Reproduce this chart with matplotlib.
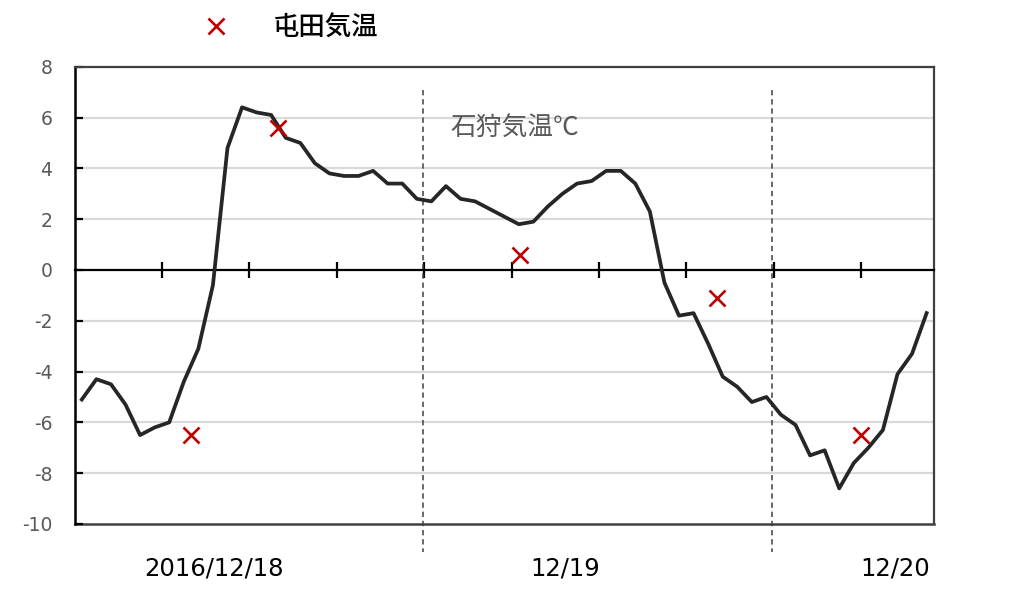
"""
Ishikari hourly air temperature vs. Tonden spot readings, 2016/12/18 - 12/20.
"""
import numpy as np
import matplotlib
matplotlib.use("Agg")
import matplotlib.pyplot as plt

# hourly temperature at Ishikari, one value per hour (59 hours from 12/18 00:00)
ishikari_temp = [
    -5.1, -4.3, -4.5, -5.3, -6.5, -6.2, -6.0, -4.4, -3.1, -0.6,
    4.8, 6.4, 6.2, 6.1, 5.2, 5.0, 4.2, 3.8, 3.7, 3.7,
    3.9, 3.4, 3.4, 2.8, 2.7, 3.3, 2.8, 2.7, 2.4, 2.1,
    1.8, 1.9, 2.5, 3.0, 3.4, 3.5, 3.9, 3.9, 3.4, 2.3,
    -0.5, -1.8, -1.7, -2.9, -4.2, -4.6, -5.2, -5.0, -5.7, -6.1,
    -7.3, -7.1, -8.6, -7.6, -7.0, -6.3, -4.1, -3.3, -1.7,
]
# Tonden readings: hours since 12/18 00:00 and temperature
tonden_hours = [8.0, 14.0, 30.6, 44.1, 54.0]
tonden_temp = [-6.5, 5.6, 0.6, -1.1, -6.5]

day_labels = ["2016/12/18", "12/19", "12/20"]
y_ticks = [8, 6, 4, 2, 0, -2, -4, -6, -8, -10]

JP = ["Noto Sans CJK JP", "DejaVu Sans"]

fig = plt.figure(figsize=(10.24, 5.92), dpi=100)
ax = fig.add_axes([0.0728, 0.1149, 0.912 - 0.0728, 0.8873 - 0.1149])

hours = np.arange(len(ishikari_temp)) + 0.5
ax.set_xlim(0, len(ishikari_temp))
ax.set_ylim(-10, 8)

# grid
for yv in y_ticks:
    if yv not in (0, 8, -10):
        ax.axhline(yv, color="#d9d9d9", lw=1.6, zorder=0)

ax.plot(hours, ishikari_temp, color="#262626", lw=2.7, zorder=3)
ax.plot(tonden_hours, tonden_temp, ls="none", marker="x", ms=11.5,
        mew=1.9, color="#c00000", zorder=4, label="屯田気温")

# day separators, running past the plot frame
for xd in (23.9, 47.9):
    ax.plot([xd, xd], [7.1, -11.1], color="#404040", lw=1.1,
            ls=(0, (3.5, 2.5)), clip_on=False, zorder=2)

# frame
for side in ("top", "right"):
    ax.spines[side].set_color("#404040")
    ax.spines[side].set_linewidth(1.6)
ax.spines["left"].set_color("black")
ax.spines["left"].set_linewidth(1.8)
ax.spines["bottom"].set_position(("data", 0))
ax.spines["bottom"].set_color("black")
ax.spines["bottom"].set_linewidth(1.6)
ax.axhline(-10, color="#404040", lw=1.8, clip_on=False, zorder=1)

ax.set_xticks(np.arange(6, len(ishikari_temp), 6))
ax.set_xticklabels([])
ax.tick_params(axis="x", direction="inout", length=11, width=1.6,
               color="black")
ax.set_yticks(y_ticks)
ax.set_yticklabels([str(v) for v in y_ticks])
ax.tick_params(axis="y", direction="in", length=6, width=1.6,
               color="black", pad=16, labelsize=13.5, labelcolor="#595959")

ax.text(25.8, 5.6, "石狩気温℃", family=JP, fontsize=18.5,
        color="#595959", ha="left", va="center")

for xf, lab in zip((0.209, 0.552, 0.874), day_labels):
    fig.text(xf, 0.0405, lab, fontsize=17.5, color="black",
             ha="center", va="center")

leg = ax.legend(loc="center left", bbox_to_anchor=(202.7 / 1024, 1 - 28 / 592),
                bbox_transform=fig.transFigure, frameon=False,
                handlelength=1.0, handletextpad=1.65, borderpad=0,
                borderaxespad=0,
                prop={"family": JP, "size": 19, "weight": "medium"})

fig.savefig("out.png", dpi=100)
